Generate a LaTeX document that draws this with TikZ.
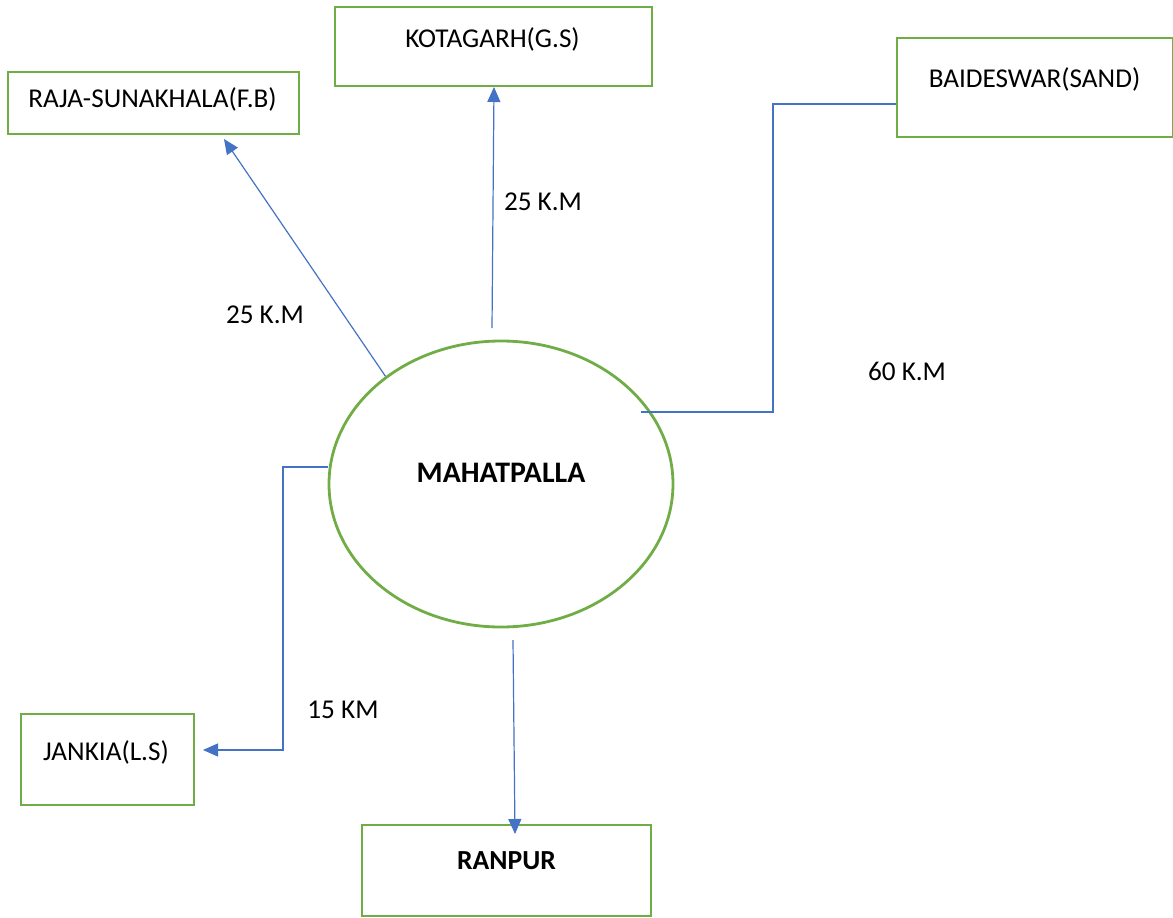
\documentclass[tikz,border=0pt]{standalone}
\usepackage{fontspec}
\setmainfont{Carlito}
\usetikzlibrary{arrows.meta,shapes.geometric}
\definecolor{boxgreen}{HTML}{70AD47}
\definecolor{lineblue}{HTML}{4472C4}
\begin{document}
\begin{tikzpicture}[x=1pt,y=-1pt,
  box/.style={draw=boxgreen,line width=2.8pt,rectangle,inner sep=0pt},
  txt/.style={inner sep=0pt,font=\fontsize{27.2}{31}\selectfont,text=black},
  btxt/.style={inner sep=0pt,text=black},
  conn/.style={draw=lineblue,line width=1.2pt},
  arr/.style={conn,-{Triangle[length=15pt,width=13pt]}}]
\useasboundingbox (0,0) rectangle (1173,918);
% boxes
\node[box,minimum width=317pt,minimum height=79pt] (kot) at (493.5,46.5) {};
\node[box,minimum width=291pt,minimum height=62pt] (raja) at (153.5,103) {};
\node[box,minimum width=276pt,minimum height=99pt] (bai) at (1035,87.5) {};
\node[box,minimum width=173pt,minimum height=91pt] (jan) at (107.5,759.5) {};
\node[box,minimum width=289pt,minimum height=91pt] (ran) at (506.5,870.5) {};
\node[draw=boxgreen,line width=2.8pt,ellipse,inner sep=0pt,minimum width=344pt,minimum height=286pt] (mah) at (501,484) {};
% texts
\node[txt] (kott) at (492.5,39) {KOTAGARH(G.S)};
\node[txt] (rajat) at (152.5,99) {RAJA-SUNAKHALA(F.B)};
\node[txt] (bait) at (1034.5,79) {BAIDESWAR(SAND)};
\node[txt] (jant) at (106,752) {JANKIA(L.S)};
\node[btxt,font=\fontsize{27.6}{31}\selectfont\bfseries] (rant) at (506.5,861) {RANPUR};
\node[btxt,font=\fontsize{29.8}{33}\selectfont\bfseries] (maht) at (501,473) {MAHATPALLA};
% distance labels
\node[txt] (l1) at (265,315) {25 K.M};
\node[txt] (l2) at (543,202) {25 K.M};
\node[txt] (l3) at (907,371) {60 K.M};
\node[txt] (l4) at (343,710) {15 KM};
% connector points
\coordinate (rajaTip) at (224,139);
\coordinate (kotStart) at (492,328);
\coordinate (kotTip) at (494,87);
\coordinate (baiStart) at (641,412);
\coordinate (baiMid1) at (773,412);
\coordinate (baiMid2) at (773,104);
\coordinate (baiEnd) at (896,104);
\coordinate (janStart) at (328,467);
\coordinate (janMid1) at (283,467);
\coordinate (janMid2) at (283,750);
\coordinate (janTip) at (203,750);
\coordinate (ranStart) at (513,640);
\coordinate (ranTip) at (515,834);
% connectors
\draw[arr] (mah.137) -- (rajaTip);
\draw[arr] (kotStart) -- (kotTip);
\draw[conn] (baiStart) -- (baiMid1) -- (baiMid2) -- (baiEnd);
\draw[arr] (janStart) -- (janMid1) -- (janMid2) -- (janTip);
\draw[arr] (ranStart) -- (ranTip);
\end{tikzpicture}
\end{document}
